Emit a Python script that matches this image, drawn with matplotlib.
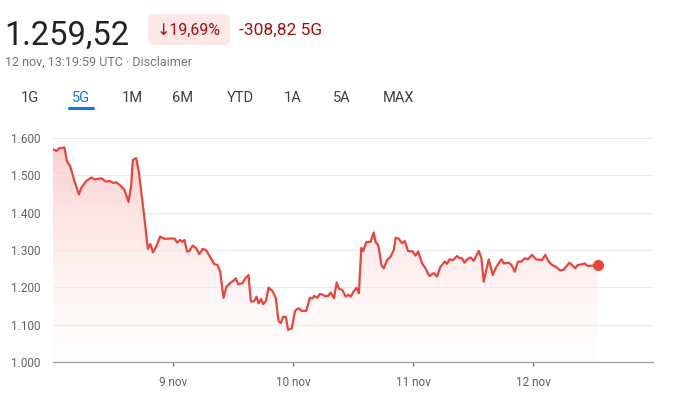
import numpy as np
import matplotlib
matplotlib.use('Agg')
import matplotlib.pyplot as plt
from matplotlib.patches import FancyBboxPatch

plt.rcParams['font.family'] = ['Roboto', 'DejaVu Sans']

# price in the last 5 days (time in days of november)
times = [8.000, 8.028, 8.050, 8.095, 8.116, 8.145, 8.180, 8.216, 8.236, 8.278,
         8.319, 8.347, 8.402, 8.444, 8.471, 8.499, 8.527, 8.554, 8.596, 8.629,
         8.652, 8.665, 8.693, 8.715, 8.762, 8.790, 8.812, 8.832, 8.860, 8.893,
         8.929, 9.012, 9.034, 9.059, 9.078, 9.095, 9.117, 9.136, 9.164, 9.192,
         9.219, 9.247, 9.275, 9.308, 9.344, 9.371, 9.393, 9.421, 9.446, 9.475,
         9.504, 9.524, 9.543, 9.579, 9.602, 9.629, 9.649, 9.677, 9.696, 9.713,
         9.733, 9.752, 9.774, 9.796, 9.829, 9.857, 9.879, 9.899, 9.918, 9.940,
         9.959, 9.990, 10.017, 10.045, 10.073, 10.111, 10.140, 10.161, 10.176, 10.203,
         10.223, 10.242, 10.264, 10.294, 10.314, 10.342, 10.364, 10.383, 10.411, 10.439,
         10.460, 10.480, 10.508, 10.530, 10.549, 10.569, 10.585, 10.610, 10.647, 10.672,
         10.688, 10.710, 10.738, 10.757, 10.785, 10.813, 10.840, 10.855, 10.882, 10.909,
         10.932, 10.959, 10.998, 11.021, 11.043, 11.076, 11.104, 11.137, 11.173, 11.200,
         11.229, 11.265, 11.284, 11.304, 11.334, 11.367, 11.387, 11.409, 11.429, 11.451,
         11.479, 11.506, 11.548, 11.570, 11.589, 11.631, 11.664, 11.695, 11.737, 11.756,
         11.798, 11.820, 11.848, 11.875, 11.903, 11.931, 11.958, 11.992, 12.025, 12.075,
         12.103, 12.130, 12.158, 12.191, 12.228, 12.255, 12.303, 12.324, 12.352, 12.374,
         12.413, 12.430, 12.457, 12.490, 12.539]
prices = [1570, 1565, 1572, 1575, 1538, 1523, 1483, 1449, 1467, 1485,
          1494, 1489, 1492, 1483, 1485, 1480, 1481, 1475, 1461, 1429,
          1474, 1541, 1546, 1510, 1385, 1303, 1316, 1294, 1309, 1336,
          1330, 1331, 1320, 1327, 1322, 1327, 1296, 1297, 1312, 1305,
          1289, 1303, 1300, 1282, 1262, 1260, 1242, 1172, 1202, 1211,
          1218, 1224, 1208, 1211, 1224, 1233, 1162, 1163, 1175, 1157,
          1169, 1155, 1163, 1199, 1190, 1171, 1110, 1104, 1121, 1121,
          1086, 1090, 1137, 1144, 1137, 1137, 1172, 1170, 1177, 1172,
          1182, 1181, 1177, 1177, 1186, 1171, 1213, 1196, 1193, 1175,
          1180, 1175, 1190, 1199, 1184, 1306, 1297, 1321, 1322, 1347,
          1322, 1313, 1258, 1251, 1273, 1282, 1300, 1333, 1330, 1318,
          1324, 1297, 1296, 1285, 1296, 1264, 1251, 1230, 1238, 1229,
          1255, 1269, 1263, 1275, 1273, 1284, 1278, 1278, 1266, 1275,
          1280, 1271, 1298, 1278, 1215, 1275, 1233, 1255, 1275, 1264,
          1266, 1260, 1242, 1269, 1269, 1278, 1275, 1287, 1275, 1273,
          1287, 1269, 1260, 1255, 1245, 1247, 1266, 1260, 1251, 1260,
          1262, 1264, 1257, 1258, 1259.52]

yticks = [1000, 1100, 1200, 1300, 1400, 1500, 1600]
ytick_labels = ['1.000', '1.100', '1.200', '1.300', '1.400', '1.500', '1.600']
xticks = [9, 10, 11, 12]
xtick_labels = ['9 nov', '10 nov', '11 nov', '12 nov']
tabs = ['1G', '5G', '1M', '6M', 'YTD', '1A', '5A', 'MAX']

red = '#e8453c'
W, H = 676, 397
fig = plt.figure(figsize=(W / 100, H / 100), dpi=100)

ax = fig.add_axes([53 / W, 35 / H, 600 / W, 224 / H])
ax.set_xlim(8, 13)
ax.set_ylim(1000, 1600)

# gradient fill under the line
grad = np.linspace(0, 1, 256).reshape(-1, 1) ** 1.5
rgba = np.zeros((256, 1, 4))
rgba[..., 0] = 0.93
rgba[..., 1] = 0.26
rgba[..., 2] = 0.21
rgba[..., 3] = 0.01 + 0.25 * grad
im = ax.imshow(rgba, extent=[times[0], times[-1], 1000, 1600], origin='lower',
               aspect='auto', zorder=1)
poly = ax.fill_between(times, prices, 1000, color='none', lw=0)
clip = poly.get_paths()[0]
im.set_clip_path(clip, transform=ax.transData)

ax.plot(times, prices, color=red, lw=1.6, zorder=3, solid_joinstyle='round')
ax.plot(times[-1], prices[-1], 'o', color=red, ms=7, zorder=4, clip_on=False)

ax.set_yticks(yticks)
ax.set_yticklabels(ytick_labels)
ax.set_xticks(xticks)
ax.set_xticklabels(xtick_labels)
ax.grid(axis='y', color='#ececec', lw=0.8, zorder=0)
for s in ['top', 'right', 'left']:
    ax.spines[s].set_visible(False)
ax.spines['bottom'].set_color('#9aa0a6')
ax.spines['bottom'].set_linewidth(0.9)
ax.tick_params(axis='y', length=0, pad=9, labelsize=8.5, labelcolor='#5f6368')
ax.tick_params(axis='x', length=3, width=1, color='#70757a', pad=7,
               labelsize=8.5, labelcolor='#5f6368')

# header
fig.text(4 / W, 1 - 45 / H, '1.259,52', fontsize=23.5, color='#202124', va='baseline')
badge = FancyBboxPatch((148 / W, 1 - 45 / H), 82 / W, 31 / H,
                       boxstyle='round,pad=0,rounding_size=0.012',
                       transform=fig.transFigure, fc='#fce8e6', ec='none')
fig.patches.append(badge)
fig.text(189 / W, 1 - 30 / H, '↓19,69%', fontsize=11.5, color='#a50e0e',
         ha='center', va='center')
fig.text(239 / W, 1 - 30 / H, '-308,82 5G', fontsize=12.5, color='#a50e0e',
         va='center')
fig.text(5 / W, 1 - 62 / H, '12 nov, 13:19:59 UTC · Disclaimer', fontsize=9,
         color='#70757a', va='center')

tab_x = [30, 81, 132, 183, 240, 293, 342, 399]
for name, x in zip(tabs, tab_x):
    col = '#1a73e8' if name == '5G' else '#3c4043'
    fig.text(x / W, 1 - 98.5 / H, name, fontsize=10.5, color=col,
             ha='center', va='center')
fig.add_artist(plt.Line2D([69 / W, 93 / W], [1 - 108 / H, 1 - 108 / H],
                          color='#1a73e8', lw=2.2, solid_capstyle='round'))

fig.savefig('out.png', dpi=100)
